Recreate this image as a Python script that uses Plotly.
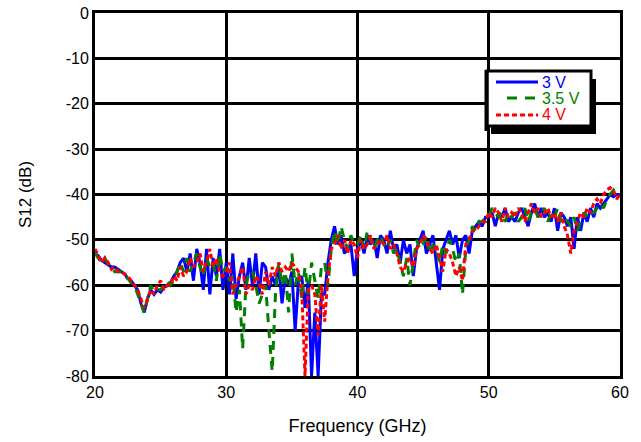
import plotly.graph_objects as go

freq = [20 + 0.25 * i for i in range(161)]

v3 = [-53, -53.5, -54.5, -55, -55.5, -56, -56, -56.5,
      -57, -57.5, -58.5, -59, -60, -61, -64, -66,
      -63, -61, -62, -61, -61.5, -60.5, -60, -59.5,
      -58, -57, -55, -54, -57, -53, -59, -52,
      -55, -61, -52, -62, -54, -58, -52, -61,
      -55, -62, -53, -63, -58, -55, -61, -54,
      -60, -53, -62, -55, -56, -61, -58, -60,
      -56, -64, -58, -60, -57, -70, -59, -58,
      -65, -59, -80, -66, -80, -62, -62, -55,
      -50, -47, -51, -49, -53, -52, -51, -58,
      -52, -50, -53, -49, -51, -50, -54, -49,
      -50, -53, -48, -52, -51, -55, -50, -53,
      -51, -58, -52, -50, -48, -53, -51, -49,
      -55, -61, -52, -50, -48, -51, -49, -54,
      -50, -49, -53, -48, -47, -46, -47, -45,
      -45, -44, -47, -44, -45, -43, -46, -45,
      -46, -44, -43, -45, -47, -44, -42, -45,
      -43, -45, -44, -46, -43, -48, -44, -45,
      -47, -45, -52, -45, -48, -44, -46, -43,
      -45, -42, -43, -42, -41, -40, -40.5, -40,
      -40]

v35 = [-53, -54, -55, -54, -55.5, -56, -57, -57,
       -57, -58, -58.5, -59.5, -60, -62, -64, -66,
       -63, -60, -61.5, -61, -61, -60, -59, -60,
       -59, -57, -55, -57, -54, -57, -55, -53,
       -56, -58, -54, -56, -55, -59, -53, -57,
       -56, -59, -58, -66, -61, -74, -60, -57,
       -57, -60, -64, -62, -60, -70, -79, -62,
       -55, -60, -57, -66, -53, -60, -57, -63,
       -56, -62, -55, -59, -63, -56, -55, -60,
       -52, -48, -51, -47, -50, -52, -49, -51,
       -51, -49, -52, -48, -50, -52, -50, -49,
       -51, -52, -50, -53, -52, -55, -58, -54,
       -60, -55, -50, -52, -51, -49, -53, -51,
       -52, -55, -51, -53, -50, -52, -55, -53,
       -62, -52, -50, -47, -48, -46, -46, -45,
       -45, -43, -44, -45, -44, -46, -44, -45,
       -44, -46, -45, -43, -46, -44, -43, -45,
       -44, -43, -46, -44, -45, -43, -46, -45,
       -46, -47, -45, -48, -46, -44, -45, -44,
       -44, -43, -42, -43, -41, -40, -39, -40,
       -40]

v4 = [-52, -53.5, -55, -54, -55, -56.5, -56, -57,
      -57, -57.5, -58, -59, -60, -61, -63, -65,
      -63, -61, -62, -60, -59, -61, -60, -60,
      -58, -59, -56, -58, -57, -54, -56, -55,
      -53, -57, -55, -52, -56, -54, -57, -58,
      -57, -55, -62, -60, -58, -56, -62, -60,
      -61, -58, -59, -62, -57, -60, -56, -58,
      -55, -57, -56, -57, -55, -56, -57, -61,
      -80, -61, -60, -62, -71, -60, -68, -58,
      -52, -51, -49, -52, -50, -53, -50, -51,
      -54, -50, -52, -51, -49, -52, -51, -50,
      -51, -49, -52, -51, -53, -56, -57, -55,
      -54, -56, -52, -51, -49, -50, -52, -53,
      -51, -54, -57, -52, -53, -55, -58, -56,
      -59, -51, -50, -48, -48, -47, -46, -46,
      -44, -45, -43, -44, -46, -43, -45, -44,
      -45, -43, -44, -46, -44, -42, -44, -43,
      -45, -44, -43, -45, -44, -46, -44, -47,
      -49, -53, -48, -46, -44, -45, -43, -44,
      -42, -41, -42, -40, -39, -38.5, -39, -41,
      -40]

series_names = ["3 V", "3.5 V", "4 V"]
series_colors = ["#0000FF", "#008000", "#FF0000"]
series_dash = ["solid", "9px,7px", "5px,3px"]
series_values = [v3, v35, v4]

x_ticks = [20, 30, 40, 50, 60]
y_ticks = [0, -10, -20, -30, -40, -50, -60, -70, -80]

FONT = "Liberation Sans, Arial, sans-serif"

W, H = 641, 442
L, R, T, B = 95, 21, 13, 66
pw, ph = W - L - R, H - T - B


def px(xp):
    return (xp - L) / pw


def py(yp):
    return (H - B - yp) / ph


fig = go.Figure()
for name, col, dsh, vals in zip(series_names, series_colors, series_dash, series_values):
    fig.add_trace(go.Scatter(x=freq, y=vals, mode="lines", name=name,
                             line=dict(color=col, width=3, dash=dsh)))

# legend (drawn box with shadow)
fig.add_shape(type="rect", xref="paper", yref="paper",
              x0=px(491), x1=px(596), y0=py(134), y1=py(79),
              fillcolor="black", line=dict(width=0), layer="above")
fig.add_shape(type="rect", xref="paper", yref="paper",
              x0=px(487), x1=px(591), y0=py(126), y1=py(71),
              fillcolor="white", line=dict(color="black", width=3), layer="above")
fig.add_shape(type="line", xref="paper", yref="paper",
              x0=px(486.5), x1=px(486.5), y0=py(131), y1=py(70),
              line=dict(color="black", width=4), layer="above")

leg_y = [82, 98, 115]
leg_x0 = [496, 507, 496]
leg_dash = ["solid", "10px,8px", "5px,3px"]
for name, col, dsh, yy, x0 in zip(series_names, series_colors, leg_dash, leg_y, leg_x0):
    fig.add_shape(type="line", xref="paper", yref="paper",
                  x0=px(x0), x1=px(538), y0=py(yy), y1=py(yy),
                  line=dict(color=col, width=3, dash=dsh), layer="above")
    fig.add_annotation(xref="paper", yref="paper", x=px(540), y=py(yy),
                       xanchor="left", yanchor="middle", showarrow=False,
                       text=name, font=dict(family=FONT, size=16, color=col))

fig.update_layout(
    width=W, height=H,
    margin=dict(l=L, r=R, t=T, b=B, autoexpand=False),
    paper_bgcolor="white", plot_bgcolor="white",
    font=dict(family=FONT, size=16, color="black"),
    showlegend=False,
    xaxis=dict(range=[20, 60], tickvals=x_ticks, ticktext=[str(v) for v in x_ticks],
               showgrid=True, gridcolor="black", gridwidth=3,
               showline=True, linecolor="black", linewidth=3, mirror=True,
               zeroline=False, ticks="", tickfont=dict(size=16), automargin=False,
               title=dict(text="Frequency (GHz)", font=dict(size=18), standoff=20)),
    yaxis=dict(range=[-80, 0], tickvals=y_ticks, ticktext=[str(v) for v in y_ticks],
               showgrid=True, gridcolor="black", gridwidth=3,
               showline=True, linecolor="black", linewidth=3, mirror=True,
               zeroline=False, ticks="", tickfont=dict(size=16), automargin=False,
               title=dict(text="S12 (dB)", font=dict(size=17), standoff=30)),
)

fig.write_html("out.html", config={"displayModeBar": False},
               post_script="document.body.style.margin='0px';")
